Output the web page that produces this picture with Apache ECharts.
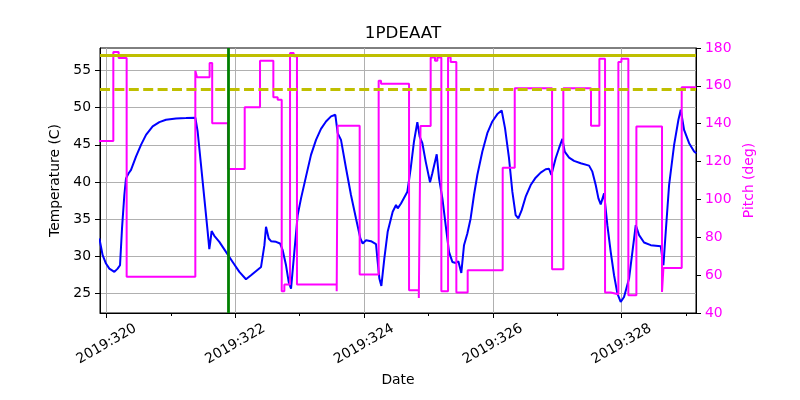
<!DOCTYPE html>
<html><head><meta charset="utf-8">
<script src="https://cdn.jsdelivr.net/npm/echarts@6/dist/echarts.min.js"></script>
<style>html,body{margin:0;padding:0;background:#fff}#c{width:800px;height:400px}</style>
</head><body><div id="c"></div>
<script>
const titleText = '1PDEAAT';
const xAxisName = 'Date';
const tempAxisName = 'Temperature (C)';
const pitchAxisName = 'Pitch (deg)';
const yearPrefix = '2019:';

// Temperature (1PDEAAT), day-of-year vs deg C
const tempDays = [319.887,319.938,319.990,320.042,320.120,320.171,320.208,320.239,320.275,320.301,320.342,320.379,320.456,320.534,320.612,320.715,320.819,320.922,321.078,321.233,321.378,321.414,321.466,321.518,321.570,321.595,321.611,321.631,321.673,321.751,321.854,321.958,322.062,322.165,322.243,322.295,322.399,322.451,322.476,322.518,322.554,322.632,322.694,322.735,322.787,322.828,322.865,322.916,322.968,323.020,323.097,323.175,323.253,323.330,323.408,323.486,323.553,323.589,323.641,323.719,323.796,323.874,323.942,323.978,324.030,324.107,324.185,324.211,324.237,324.268,324.314,324.366,324.444,324.496,324.522,324.573,324.594,324.672,324.724,324.775,324.827,324.863,324.905,324.957,325.024,325.060,325.128,325.164,325.216,325.267,325.319,325.371,325.423,325.464,325.510,325.552,325.604,325.655,325.707,325.759,325.837,325.914,325.992,326.070,326.137,326.189,326.251,326.303,326.354,326.396,326.448,326.510,326.588,326.665,326.743,326.821,326.873,326.909,326.976,327.028,327.080,327.116,327.184,327.261,327.365,327.495,327.546,327.598,327.640,327.676,327.728,327.779,327.831,327.883,327.935,327.986,328.038,328.116,328.168,328.220,328.272,328.349,328.453,328.608,328.634,328.650,328.686,328.738,328.816,328.883,328.919,328.971,329.049,329.127,329.160];
const tempValues = [32.41,30.16,29.04,28.36,27.92,28.36,28.81,33.76,38.25,40.49,41.17,41.62,43.42,44.99,46.33,47.46,48.04,48.36,48.54,48.58,48.63,46.78,42.29,37.80,33.31,30.97,31.96,33.40,32.77,31.96,30.61,29.26,27.92,26.93,27.47,27.85,28.59,31.51,33.98,32.41,32.05,31.96,31.74,30.84,28.81,26.57,25.67,30.61,35.55,37.80,40.72,43.64,45.66,47.14,48.13,48.81,49.03,46.56,45.66,41.84,38.25,35.10,32.41,31.74,32.18,32.05,31.64,29.26,27.02,26.03,29.71,33.31,36.00,36.90,36.45,37.12,37.35,38.70,41.84,45.44,48.04,46.11,45.21,42.74,39.95,41.17,43.73,40.49,37.80,34.20,30.61,29.26,29.12,29.35,27.78,31.51,33.08,35.10,38.25,40.94,44.09,46.56,48.13,49.12,49.61,47.23,43.19,38.70,35.55,35.10,36.22,38.02,39.59,40.58,41.26,41.71,41.78,40.94,43.19,44.54,45.80,44.09,43.28,42.83,42.52,42.20,41.39,39.59,37.80,36.99,38.47,34.20,30.61,27.47,25.00,23.88,24.55,27.02,30.61,34.20,32.86,31.87,31.51,31.38,29.71,28.81,33.31,39.59,44.99,48.36,49.70,47.00,45.21,44.09,43.85];

// Pitch, change points (value holds until the next day listed)
const pitchDays = [319.880,320.104,320.187,320.311,321.378,321.404,321.600,321.640,321.885,322.145,322.383,322.590,322.657,322.720,322.761,322.849,322.906,322.957,323.574,323.589,323.931,324.226,324.263,324.698,324.850,324.876,325.034,325.101,325.138,325.200,325.304,325.345,325.433,325.609,326.153,326.340,326.920,327.095,327.525,327.655,327.743,327.831,327.950,327.997,328.105,328.230,328.628,328.650,328.934,329.160];
const pitchValues = [130.9,177.9,174.7,59.1,168.0,164.6,172.1,140.2,116.1,148.7,173.3,154.0,152.6,51.5,55.0,177.3,175.6,55.0,51.5,138.9,60.3,162.7,161.1,52.0,47.9,138.8,175.0,173.3,175.0,51.5,175.0,172.6,50.8,62.6,116.8,158.8,63.1,158.8,138.9,174.3,50.8,49.9,172.6,174.3,49.4,138.5,51.1,63.8,159.2,159.2];

const limitCaution = 57.0;
const limitPlanning = 52.5;
const markerDay = 321.895;

const majorTickDays = [320,322,324,326,328];
const minorTickDays = [321,323,325,327,329];
const tempTicks = [25,30,35,40,45,50,55];
const pitchTickStep = 20;
const xRange = [319.897, 329.156];
const tempRange = [22.4, 58.0];
const pitchRange = [40, 180];

const FONT = 'DejaVu Sans';
const FS = 13.9;

const tempData = tempDays.map((d, i) => [d, tempValues[i]]);
const pitchData = pitchDays.map((d, i) => [d, pitchValues[i]]);

const chart = echarts.init(document.getElementById('c'), null, {renderer: 'canvas'});
chart.setOption({
  animation: false,
  backgroundColor: '#fff',
  textStyle: {fontFamily: FONT},
  title: {
    text: titleText, left: 398, top: 20, textAlign: 'center',
    textStyle: {fontFamily: FONT, fontSize: 16.7, fontWeight: 'normal', color: '#000'}
  },
  grid: {left: 100, right: 104, top: 48, bottom: 87, show: true, borderColor: '#000', borderWidth: 1, backgroundColor: 'transparent'},
  xAxis: [{
    type: 'value', min: xRange[0], max: xRange[1], position: 'bottom',
    name: xAxisName, nameLocation: 'middle', nameGap: 60,
    nameTextStyle: {fontFamily: FONT, fontSize: FS, color: '#000'},
    axisLine: {show: true, onZero: false, lineStyle: {color: '#000', width: 1}},
    axisTick: {show: true, inside: false, length: 5, customValues: majorTickDays, lineStyle: {color: '#000', width: 1}},
    axisLabel: {show: true, customValues: majorTickDays, rotate: 30, margin: 31, align: 'center', verticalAlign: 'middle',
      fontFamily: FONT, fontSize: FS, color: '#000',
      formatter: v => yearPrefix + Math.round(v)},
    splitLine: {show: true, lineStyle: {color: '#b0b0b0', width: 1}}
  }, {
    type: 'value', min: xRange[0], max: xRange[1], position: 'bottom',
    axisLine: {show: false, onZero: false},
    axisTick: {show: true, inside: false, length: 3, customValues: minorTickDays, lineStyle: {color: '#000', width: 1}},
    axisLabel: {show: false},
    splitLine: {show: false}
  }],
  yAxis: [{
    type: 'value', min: tempRange[0], max: tempRange[1], position: 'left',
    name: tempAxisName, nameLocation: 'middle', nameGap: 29,
    nameTextStyle: {fontFamily: FONT, fontSize: FS, color: '#000'},
    axisLine: {show: true, onZero: false, lineStyle: {color: '#000', width: 1}},
    axisTick: {show: true, inside: false, length: 5, customValues: tempTicks, lineStyle: {color: '#000', width: 1}},
    axisLabel: {show: true, customValues: tempTicks, margin: 9, fontFamily: FONT, fontSize: FS, color: '#000'},
    splitLine: {show: true, lineStyle: {color: '#b0b0b0', width: 1}}
  }, {
    type: 'value', min: pitchRange[0], max: pitchRange[1], interval: pitchTickStep, position: 'right',
    name: pitchAxisName, nameLocation: 'middle', nameGap: 35,
    nameTextStyle: {fontFamily: FONT, fontSize: FS, color: '#ff00ff'},
    axisLine: {show: true, onZero: false, lineStyle: {color: '#000', width: 1}},
    axisTick: {show: true, inside: false, length: 5, lineStyle: {color: '#000', width: 1}},
    axisLabel: {show: true, margin: 9, fontFamily: FONT, fontSize: FS, color: '#ff00ff'},
    splitLine: {show: false}
  }],
  series: [{
    name: 'temp', type: 'line', xAxisIndex: 0, yAxisIndex: 0, data: tempData,
    showSymbol: false, symbol: 'none', smooth: false, z: 2,
    lineStyle: {color: '#0000ff', width: 2},
    markLine: {
      silent: true, symbol: ['none', 'none'], label: {show: false}, animation: false,
      data: [
        {yAxis: limitCaution, lineStyle: {color: '#bfbf00', width: 2.8, type: 'solid'}},
        {yAxis: limitPlanning, lineStyle: {color: '#bfbf00', width: 2.8, type: [10, 4.4]}},
        {xAxis: markerDay, lineStyle: {color: '#008000', width: 2.8, type: 'solid'}}
      ]
    }
  }, {
    name: 'pitch', type: 'line', xAxisIndex: 0, yAxisIndex: 1, data: pitchData, step: 'end',
    showSymbol: false, symbol: 'none', z: 3,
    lineStyle: {color: '#ff00ff', width: 2}
  }]
});
</script>
</body></html>
